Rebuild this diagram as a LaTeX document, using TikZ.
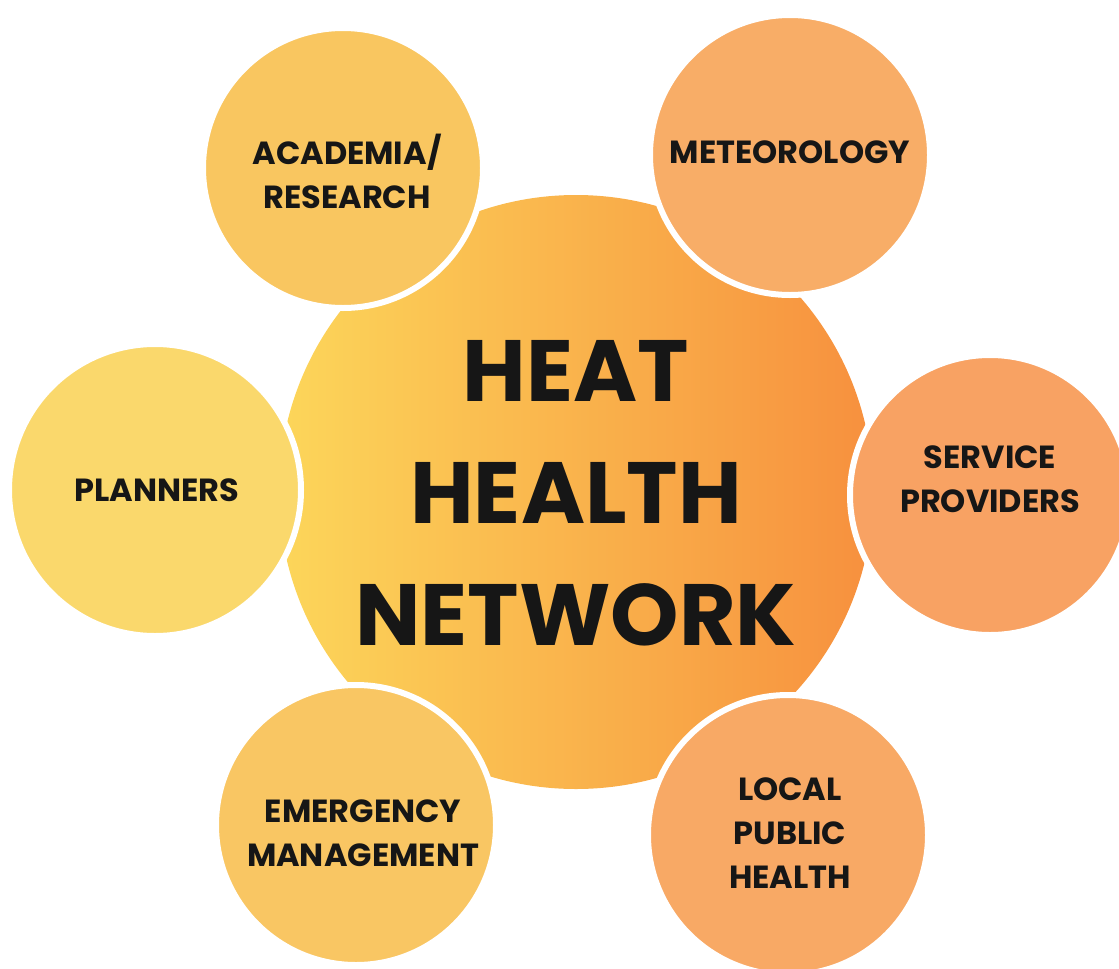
\documentclass[tikz,border=0pt]{standalone}
\usepackage{fontspec}
\setmainfont{Poppins}
\definecolor{hubleft}{HTML}{FCD65A}
\definecolor{hubright}{HTML}{F7903E}
\definecolor{acadfill}{HTML}{F9C660}
\definecolor{meteofill}{HTML}{F8AD67}
\definecolor{planfill}{HTML}{FAD86C}
\definecolor{servfill}{HTML}{F8A263}
\definecolor{emerfill}{HTML}{F9C663}
\definecolor{localfill}{HTML}{F8A965}
\definecolor{labelink}{HTML}{161616}
\begin{document}
\begin{tikzpicture}[x=1pt, y=-1pt, line join=round,
    hub/.style={circle, inner sep=0pt, minimum size=594pt, left color=hubleft, right color=hubright},
    spoke/.style={circle, inner sep=0pt, minimum size=280pt, draw=white, line width=6pt},
    hubtext/.style={align=center, text=labelink, font=\fontsize{87}{122}\selectfont\bfseries},
    spoketext/.style={align=center, text=labelink, font=\fontsize{32}{44}\selectfont\bfseries}]
                \useasboundingbox (0,0) rectangle (1119,969);
                \clip (0,0) rectangle (1119,969);
                \node[hub] (heat) at (576,492) {};
                \node[hubtext] (heatlabel) at (576,493) {HEAT\\HEALTH\\NETWORK};
                \foreach \name/\x/\y/\shade/\dx/\dy/\size/\words in {
                        acad/343/168/acadfill/4/-3/280/{ACADEMIA/\\RESEARCH},
                        meteo/790/155/meteofill/0/3/280/{METEOROLOGY},
                        plan/155/490/planfill/2/0/292/{PLANNERS},
                        serv/990/495/servfill/0/16/280/{SERVICE\\PROVIDERS},
                        emer/356/825/emerfill/7/-8/280/{EMERGENCY\\MANAGEMENT},
                        local/788/835/localfill/2/2/280/{LOCAL\\PUBLIC\\HEALTH}}
                    {
                    \node[spoke, fill=\shade, minimum size=\size pt] (\name) at (\x,\y) {};
                    \node[spoketext] (\name label) at ([xshift=\dx pt, yshift=\dy pt]\name) {\words};
                    }
            \end{tikzpicture}
\end{document}
